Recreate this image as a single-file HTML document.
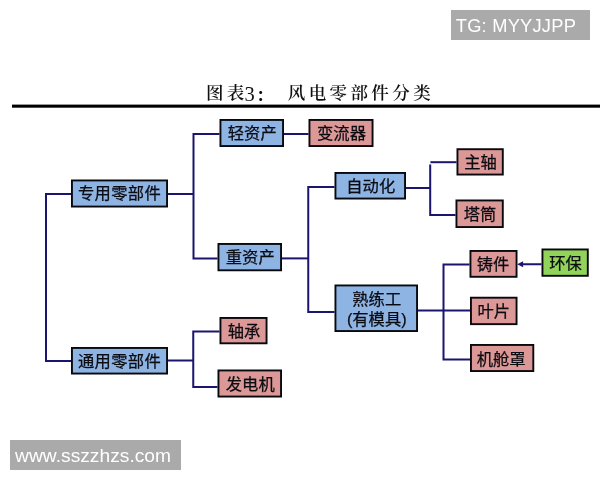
<!DOCTYPE html>
<html lang="zh-CN">
<head>
<meta charset="utf-8">
<title>图表3： 风电零部件分类</title>
<style>
html,body{margin:0;padding:0;background:#fff;}
body{width:600px;height:480px;position:relative;overflow:hidden;font-family:"Liberation Sans","Noto Sans CJK SC",sans-serif;}
.wm{will-change:transform;position:absolute;background:#aaaaaa;color:#fff;font-family:"Liberation Sans",sans-serif;white-space:nowrap;}
#wm1{left:451px;top:10px;width:139px;height:30px;font-size:18.3px;line-height:30px;letter-spacing:0.22px;}
#wm1 span{position:absolute;left:4.8px;top:1px;}
#wm2{left:10px;top:440px;width:171px;height:30px;font-size:19.2px;line-height:30px;letter-spacing:0.02px;}
#wm2 span{position:absolute;left:5.1px;top:0.8px;}
#title{will-change:transform;position:absolute;left:0;top:81.2px;width:600px;height:24px;line-height:24px;font-size:17.5px;letter-spacing:3.4px;white-space:pre;color:#111;font-weight:600;font-family:"Liberation Serif","Noto Serif CJK SC",serif;}
#title span{position:absolute;top:0;}
#title .n{font-weight:400;font-size:20.5px;letter-spacing:0;top:0.6px;}
#title .c{font-weight:700;top:2px !important;}
svg{position:absolute;left:0;top:0;}
.bx{will-change:transform;position:absolute;color:#0b0b12;font-size:16.3px;font-weight:400;-webkit-text-stroke:0.25px #0b0b12;text-align:center;white-space:nowrap;display:flex;align-items:center;justify-content:center;line-height:20px;}
</style>
</head>
<body>
<div class="wm" id="wm1"><span>TG: MYYJJPP</span></div>
<div class="wm" id="wm2"><span>www.sszzhzs.com</span></div>
<div id="title"><span style="left:205.9px">图表</span><span class="n" style="left:244.6px">3</span><span class="c" style="left:256px">：</span><span style="left:276px"> </span><span style="left:287.75px">风电零部件分类</span></div>
<svg width="600" height="480" viewBox="0 0 600 480">
<g fill="none" stroke="#1b1570" stroke-width="2" stroke-linejoin="miter">
<path d="M71 194 H46 V361 H71"/>
<path d="M168 194 H193.5"/>
<path d="M219.5 134 H193.5 V258.4 H217.5"/>
<path d="M284 134 H308.5"/>
<path d="M282 258.4 H308.25"/>
<path d="M334.5 187 H308.25 V312 H334.5"/>
<path d="M406 188 H430"/>
<path d="M456.5 162.2 H430.4"/>
<path d="M430.2 164.4 V215 H455.5"/>
<path d="M418 310.5 H470"/>
<path d="M469.5 264.5 H443.5 V359.5 H470"/>
<path d="M168 360.5 H193.25"/>
<path d="M219.5 331.5 H193.25 V387 H217.5"/>
<path d="M541.5 264.25 H522"/>
</g>
<polygon points="517.2,264.25 523.1,261.2 523.1,267.3" fill="#1b1570"/>
<rect x="12" y="104.6" width="588" height="3.1" fill="#000"/>
<g stroke="#08080f" stroke-width="1.9">
<rect x="71.95" y="180.45" width="95.10" height="26.10" fill="#8eb4e3"/>
<rect x="71.95" y="347.95" width="95.10" height="25.60" fill="#8eb4e3"/>
<rect x="220.45" y="119.95" width="62.60" height="26.10" fill="#8eb4e3"/>
<rect x="309.45" y="119.95" width="63.10" height="26.10" fill="#db9896"/>
<rect x="218.45" y="243.95" width="62.60" height="26.35" fill="#8eb4e3"/>
<rect x="335.45" y="172.95" width="69.60" height="25.60" fill="#8eb4e3"/>
<rect x="457.45" y="149.20" width="45.35" height="25.35" fill="#db9896"/>
<rect x="456.45" y="200.45" width="46.35" height="26.60" fill="#db9896"/>
<rect x="335.45" y="285.45" width="81.60" height="45.60" fill="#8eb4e3"/>
<rect x="470.45" y="250.95" width="46.10" height="25.85" fill="#db9896"/>
<rect x="542.45" y="249.45" width="45.35" height="26.35" fill="#92d45a"/>
<rect x="470.95" y="297.70" width="45.60" height="26.45" fill="#db9896"/>
<rect x="470.95" y="344.95" width="62.35" height="26.10" fill="#db9896"/>
<rect x="220.45" y="317.95" width="46.10" height="25.35" fill="#db9896"/>
<rect x="218.45" y="370.45" width="62.60" height="26.10" fill="#db9896"/>
</g>
</svg>
<div class="bx" style="left:70.5px;top:179.2px;width:97px;height:28.0px;letter-spacing:0.35px;"><span>专用零部件</span></div>
<div class="bx" style="left:70.5px;top:347px;width:97px;height:27.5px;letter-spacing:0.35px;"><span>通用零部件</span></div>
<div class="bx" style="left:219.5px;top:119px;width:64.5px;height:28px;"><span>轻资产</span></div>
<div class="bx" style="left:308.5px;top:119px;width:65.0px;height:28px;"><span>变流器</span></div>
<div class="bx" style="left:217.5px;top:243px;width:64.5px;height:28.25px;"><span>重资产</span></div>
<div class="bx" style="left:334.5px;top:172px;width:71.5px;height:27.5px;"><span>自动化</span></div>
<div class="bx" style="left:456.5px;top:148.25px;width:47.25px;height:27.25px;"><span>主轴</span></div>
<div class="bx" style="left:455.5px;top:199.5px;width:48.25px;height:28.5px;"><span>塔筒</span></div>
<div class="bx" style="left:334.5px;top:284.5px;width:83.5px;height:47.5px;"><span>熟练工<br>(有模具)</span></div>
<div class="bx" style="left:468.9px;top:250px;width:48.0px;height:27.75px;"><span>铸件</span></div>
<div class="bx" style="left:541.5px;top:248.5px;width:47.25px;height:28.25px;"><span>环保</span></div>
<div class="bx" style="left:470px;top:296.75px;width:47.5px;height:28.350000000000023px;"><span>叶片</span></div>
<div class="bx" style="left:469.4px;top:344.8px;width:64.25px;height:28px;"><span>机舱罩</span></div>
<div class="bx" style="left:219.5px;top:317px;width:48.0px;height:27.25px;"><span>轴承</span></div>
<div class="bx" style="left:217.5px;top:369.5px;width:64.5px;height:28.0px;"><span>发电机</span></div>
</body>
</html>
